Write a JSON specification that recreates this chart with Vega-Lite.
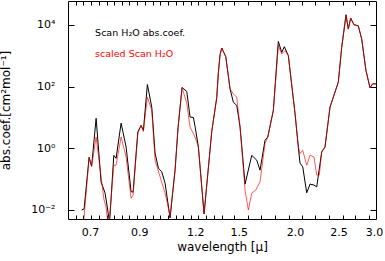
{
  "$schema": "https://vega.github.io/schema/vega-lite/v6.json",
  "width": 308,
  "height": 218,
  "autosize": {"type": "none"},
  "padding": {"left": 68, "top": 1, "right": 9, "bottom": 42},
  "background": "white",
  "datasets": {
    "black": [
      {"x":0.6702,"y":0.01},{"x":0.6788,"y":0.0108},{"x":0.6964,"y":0.51},{"x":0.7054,"y":0.26},{"x":0.7219,"y":9.3},{"x":0.7406,"y":0.08},{"x":0.7559,"y":0.035},{"x":0.7735,"y":0.004},{"x":0.7904,"y":0.59},{"x":0.7997,"y":0.47},{"x":0.8205,"y":6.5},{"x":0.8418,"y":1.1},{"x":0.8636,"y":0.039},{"x":0.8725,"y":0.038},{"x":0.8938,"y":3.36},{"x":0.909,"y":5.5},{"x":0.9198,"y":3.8},{"x":0.9388,"y":116},{"x":0.9602,"y":21.5},{"x":0.9766,"y":0.69},{"x":0.9933,"y":0.226},{"x":1.0107,"y":0.172},{"x":1.0279,"y":0.074},{"x":1.0546,"y":0.0055},{"x":1.082,"y":0.2},{"x":1.0987,"y":4.7},{"x":1.1215,"y":93},{"x":1.1488,"y":69},{"x":1.1684,"y":10.2},{"x":1.1883,"y":10},{"x":1.1987,"y":5.1},{"x":1.2192,"y":1.1},{"x":1.2553,"y":0.0074},{"x":1.3058,"y":3.5},{"x":1.3397,"y":44},{"x":1.3507,"y":283},{"x":1.3625,"y":1077},{"x":1.3744,"y":1772},{"x":1.4029,"y":929},{"x":1.4341,"y":84},{"x":1.4586,"y":31},{"x":1.4842,"y":24.4},{"x":1.5095,"y":4.9},{"x":1.5487,"y":0.069},{"x":1.6028,"y":0.59},{"x":1.6443,"y":0.41},{"x":1.6723,"y":0.195},{"x":1.7157,"y":1.81},{"x":1.7396,"y":2.3},{"x":1.7903,"y":16.8},{"x":1.8367,"y":2892},{"x":1.869,"y":1278},{"x":1.8941,"y":1951},{"x":1.9333,"y":1000},{"x":2.0008,"y":13.5},{"x":2.0349,"y":1.1},{"x":2.0527,"y":0.33},{"x":2.0813,"y":0.25},{"x":2.1244,"y":0.036},{"x":2.1606,"y":0.069},{"x":2.2053,"y":0.064},{"x":2.236,"y":0.056},{"x":2.2941,"y":0.76},{"x":2.3332,"y":1.1},{"x":2.3937,"y":21.5},{"x":2.4345,"y":45},{"x":2.4977,"y":138},{"x":2.5416,"y":1852},{"x":2.5982,"y":21010},{"x":2.629,"y":7267},{"x":2.6615,"y":16450},{"x":2.7069,"y":10000},{"x":2.7671,"y":9284},{"x":2.8158,"y":3456},{"x":2.8785,"y":328},{"x":2.9381,"y":91},{"x":2.979,"y":122},{"x":3.03,"y":122}
    ],
    "red": [
      {"x":0.6772,"y":0.004},{"x":0.6964,"y":0.49},{"x":0.7054,"y":0.26},{"x":0.7219,"y":2.3},{"x":0.7406,"y":0.116},{"x":0.752,"y":0.021},{"x":0.7598,"y":0.0125},{"x":0.7637,"y":0.006},{"x":0.7716,"y":0.004},{"x":0.7904,"y":0.283},{"x":0.7997,"y":0.283},{"x":0.8205,"y":2.3},{"x":0.8418,"y":0.52},{"x":0.8636,"y":0.024},{"x":0.8725,"y":0.03},{"x":0.8938,"y":3.05},{"x":0.909,"y":5.5},{"x":0.9198,"y":3.5},{"x":0.9388,"y":45},{"x":0.9602,"y":16.8},{"x":0.9766,"y":0.41},{"x":1.0019,"y":0.119},{"x":1.0279,"y":0.035},{"x":1.0546,"y":0.0064},{"x":1.082,"y":0.2},{"x":1.0987,"y":4.7},{"x":1.1215,"y":93},{"x":1.1488,"y":28.3},{"x":1.1684,"y":4.9},{"x":1.1987,"y":2.3},{"x":1.2192,"y":1.1},{"x":1.2553,"y":0.0074},{"x":1.3058,"y":3.5},{"x":1.3397,"y":44},{"x":1.3507,"y":283},{"x":1.3625,"y":1077},{"x":1.3744,"y":1772},{"x":1.4029,"y":929},{"x":1.4341,"y":84},{"x":1.4586,"y":58},{"x":1.4842,"y":45},{"x":1.5095,"y":4.9},{"x":1.5487,"y":0.044},{"x":1.5751,"y":0.01},{"x":1.6028,"y":0.035},{"x":1.6359,"y":0.044},{"x":1.6723,"y":0.082},{"x":1.7157,"y":1.42},{"x":1.7396,"y":2.26},{"x":1.7903,"y":16.8},{"x":1.8367,"y":2101},{"x":1.869,"y":1134},{"x":1.9009,"y":1450},{"x":1.9333,"y":1000},{"x":2.0008,"y":13.5},{"x":2.0349,"y":1.1},{"x":2.0527,"y":0.67},{"x":2.0813,"y":0.86},{"x":2.1244,"y":0.28},{"x":2.1606,"y":0.59},{"x":2.2053,"y":0.52},{"x":2.236,"y":0.135},{"x":2.266,"y":0.135},{"x":2.2941,"y":0.76},{"x":2.3332,"y":1.1},{"x":2.3937,"y":21.5},{"x":2.4345,"y":45},{"x":2.4977,"y":138},{"x":2.5416,"y":1852},{"x":2.5982,"y":21010},{"x":2.629,"y":7267},{"x":2.6615,"y":16450},{"x":2.7069,"y":10000},{"x":2.7671,"y":9284},{"x":2.8158,"y":3456},{"x":2.8785,"y":328},{"x":2.9381,"y":91},{"x":2.979,"y":122},{"x":3.03,"y":122}
    ],
    "legend": [
      {"x":0.7182,"y":5520,"label":"Scan H₂O abs.coef.","series":"data"},
      {"x":0.7182,"y":1161,"label":"scaled Scan H₂O","series":"scaled"}
    ]
  },
  "layer": [
    {
      "data": {"name": "black"},
      "mark": {"type": "line", "color": "black", "strokeWidth": 1, "clip": true},
      "encoding": {
        "x": {"field": "x", "type": "quantitative",
              "scale": {"type": "log", "domain": [0.625, 3.03], "nice": false, "zero": false},
              "axis": {"orient": "bottom", "values": [0.7, 0.9, 1.2, 1.5, 2, 2.5, 3], "format": ".1f", "ticks": false,
                       "labelPadding": 7, "labelFlush": false, "labelOverlap": false, "labelBound": false,
                       "title": "wavelength [μ]", "titlePadding": 4}},
        "y": {"field": "y", "type": "quantitative",
              "scale": {"type": "log", "domain": [0.0051, 59000], "nice": false, "zero": false},
              "axis": {"orient": "left", "values": [0.01, 1, 100, 10000],
                       "labelExpr": "datum.value >= 5000 ? '10⁴' : datum.value >= 50 ? '10²' : datum.value >= 0.5 ? '10⁰' : '10⁻²'",
                       "tickSize": 6, "offset": -6, "labelPadding": 13, "labelOverlap": false, "labelBound": false, "labelFlush": false,
                       "title": "abs.coef.[cm²mol⁻¹]", "titlePadding": 18}}
      }
    },
    {
      "data": {"name": "red"},
      "mark": {"type": "line", "color": "red", "strokeWidth": 1, "opacity": 0.65, "clip": true},
      "encoding": {
        "x": {"field": "x", "type": "quantitative",
              "scale": {"type": "log", "domain": [0.625, 3.03], "nice": false, "zero": false},
              "axis": {"orient": "bottom", "values": [0.6516,0.6763,0.7036,0.7342,0.7626,0.7928,0.8247,0.8561,0.8905,0.9278,0.9652,1.0019,1.0423,1.0875,1.129,1.1744,1.2191,1.2683,1.3193,1.3744,1.4616,1.5727,1.6835,1.8087,1.9372,2.0739,2.2201,2.3778,2.5547,2.725,2.9278],
                       "labels": false, "tickSize": 4, "offset": -4, "title": null}},
        "y": {"field": "y", "type": "quantitative",
              "scale": {"type": "log", "domain": [0.0051, 59000], "nice": false, "zero": false},
              "axis": null}
      }
    },
    {
      "data": {"name": "legend"},
      "mark": {"type": "text", "align": "left", "baseline": "middle", "font": "DejaVu Sans", "fontSize": 9.5},
      "encoding": {
        "x": {"field": "x", "type": "quantitative",
              "scale": {"type": "log", "domain": [0.625, 3.03], "nice": false, "zero": false},
              "axis": {"orient": "top", "values": [0.6516,0.6763,0.7036,0.7342,0.7626,0.7928,0.8247,0.8561,0.8905,0.9278,0.9652,1.0019,1.0423,1.0875,1.129,1.1744,1.2191,1.2683,1.3193,1.3744,1.4616,1.5727,1.6835,1.8087,1.9372,2.0739,2.2201,2.3778,2.5547,2.725,2.9278],
                       "labels": false, "tickSize": 4, "offset": -4, "title": null}},
        "y": {"field": "y", "type": "quantitative",
              "scale": {"type": "log", "domain": [0.0051, 59000], "nice": false, "zero": false},
              "axis": {"orient": "right", "values": [0.01, 1, 100, 10000], "labels": false, "tickSize": 6, "offset": -6, "title": null}},
        "text": {"field": "label"},
        "color": {"field": "series", "type": "nominal", "scale": {"domain": ["data", "scaled"], "range": ["black", "red"]}, "legend": null}
      }
    }
  ],
  "resolve": {"scale": {"x": "shared", "y": "shared"}, "axis": {"x": "independent", "y": "independent"}},
  "config": {
    "view": {"stroke": "black", "strokeWidth": 1},
    "axis": {"grid": false, "domain": false, "tickColor": "black", "tickWidth": 1,
             "labelFont": "DejaVu Sans", "labelFontSize": 11, "labelColor": "black",
             "titleFont": "DejaVu Sans", "titleFontSize": 12, "titleFontWeight": "normal", "titleColor": "black"}
  }
}
